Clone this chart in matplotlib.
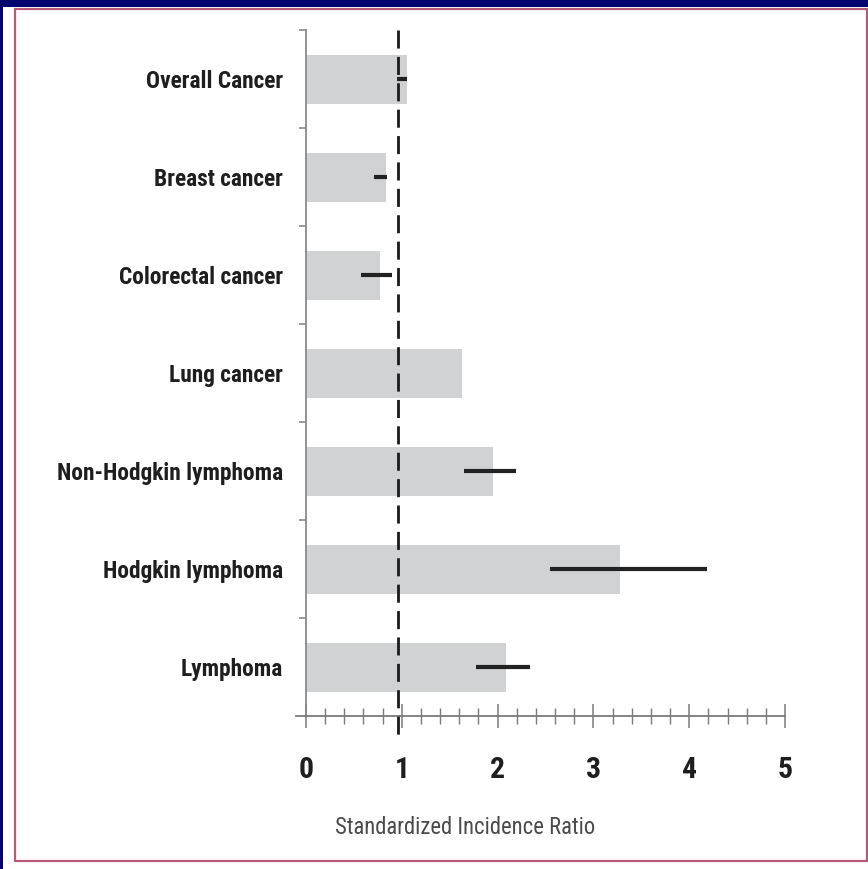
import numpy as np
import matplotlib
matplotlib.use('Agg')
import matplotlib.pyplot as plt
from matplotlib import font_manager
from matplotlib.patches import Rectangle
from matplotlib.ticker import MultipleLocator, FixedLocator

# ============== DATA ==============
categories = ['Overall Cancer', 'Breast cancer', 'Colorectal cancer', 'Lung cancer',
              'Non-Hodgkin lymphoma', 'Hodgkin lymphoma', 'Lymphoma']
sir = [1.05, 0.84, 0.77, 1.63, 1.95, 3.28, 2.09]
ci_low = [0.95, 0.71, 0.57, None, 1.65, 2.55, 1.77]
ci_high = [1.05, 0.85, 0.90, None, 2.19, 4.19, 2.34]
ref_line = 0.96
x_ticks = [0, 1, 2, 3, 4, 5]
x_label = 'Standardized Incidence Ratio'
# ==================================


def pick_font():
    """Pick a condensed family if one is installed."""
    fl = font_manager.fontManager.ttflist
    names = {f.name for f in fl}
    for fam in ['Liberation Sans Narrow', 'Roboto Condensed', 'Open Sans Condensed']:
        if fam in names:
            return fam, 'normal'
    for f in fl:
        if f.name == 'DejaVu Sans' and str(f.stretch) in ('condensed', 'semi-condensed'):
            return 'DejaVu Sans', 'condensed'
    return 'Roboto', 'normal'


FAMILY, STRETCH = pick_font()
plt.rcParams['font.family'] = [FAMILY, 'DejaVu Sans']

W, H = 868, 869
fig = plt.figure(figsize=(W / 100, H / 100), dpi=100, facecolor='#04046e')
renderer = fig.canvas.get_renderer()


def fit_size(text, target_px, weight='normal', base=20):
    t = fig.text(0, 0, text, fontsize=base, fontweight=weight, fontstretch=STRETCH)
    w = t.get_window_extent(renderer).width
    t.remove()
    return base * target_px / w


# white panel and pink frame
fig.patches.append(Rectangle((3 / W, 0), 1 - 3 / W, 1 - 7 / H, transform=fig.transFigure,
                             facecolor='white', edgecolor='none', zorder=-2))
fig.patches.append(Rectangle((15 / W, (H - 861) / H), (867 - 15) / W, (861 - 9) / H,
                             transform=fig.transFigure, facecolor='none',
                             edgecolor='#b8587a', lw=1.6, zorder=-1))

ax = fig.add_axes([296.4 / W, (H - 716) / H, (785 - 296.4) / W, 686 / H])
ax.set_facecolor('none')

n = len(categories)
ypos = np.arange(n)[::-1]

ax.barh(ypos, sir, height=0.5, color='#d1d2d4', zorder=1)
for y, lo, hi in zip(ypos, ci_low, ci_high):
    if lo is None:
        continue
    ax.plot([lo, hi], [y, y], color='#222222', lw=3, solid_capstyle='butt', zorder=3)

ax.plot([ref_line, ref_line], [n - 0.5, -0.75], color='#1a1a1a', lw=2.0,
        dashes=(6.5, 3.0), clip_on=False, zorder=4)

ax.set_xlim(-0.1, 5)
ax.set_ylim(-0.5, n - 0.5)

for s in ['top', 'right']:
    ax.spines[s].set_visible(False)
ax.spines['left'].set_position(('data', 0))
ax.spines['left'].set_color('#8a8a8a')
ax.spines['left'].set_linewidth(1.3)
ax.spines['bottom'].set_color('#7a7a7a')
ax.spines['bottom'].set_linewidth(1.3)

cat_size = fit_size('Non-Hodgkin lymphoma', 226, weight='bold')
tick_size = min(fit_size('0', 15, weight='bold'), 28)
lab_size = fit_size(x_label, 260)

# y: labels at rows, separator ticks between rows
ax.set_yticks(ypos)
ax.set_yticklabels(categories, fontsize=cat_size, fontweight='bold', color='#1e1e1e',
                   fontstretch=STRETCH)
ax.tick_params(axis='y', which='major', length=0, pad=16.5)
ax.yaxis.set_minor_locator(FixedLocator(np.arange(n) + 0.5))
ax.tick_params(axis='y', which='minor', length=5, width=1.2, color='#8a8a8a', direction='out')

# x: major integers, minor every 0.2
ax.xaxis.set_major_locator(FixedLocator(x_ticks))
ax.xaxis.set_minor_locator(MultipleLocator(0.2))
ax.set_xticklabels([str(t) for t in x_ticks], fontsize=tick_size, fontweight='bold',
                   color='#1e1e1e', fontstretch=STRETCH)
ax.tick_params(axis='x', which='major', length=17, width=1.1, color='#7a7a7a',
               direction='inout', pad=20)
ax.tick_params(axis='x', which='minor', length=11, width=1.0, color='#7a7a7a',
               direction='inout')

fig.text(465 / W, 1 - 828 / H, x_label, ha='center', va='center', fontsize=lab_size,
         color='#4a4a4a', fontstretch=STRETCH)

fig.savefig('out.png', dpi=100, facecolor=fig.get_facecolor())
